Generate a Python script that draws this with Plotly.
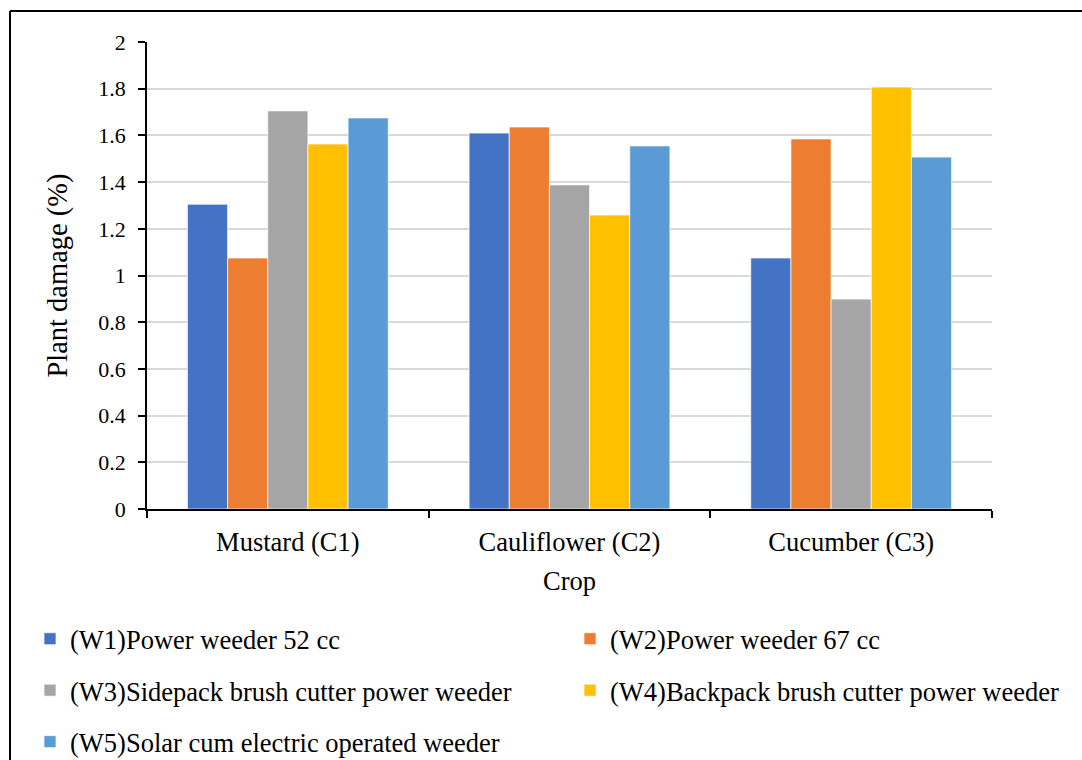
import plotly.graph_objects as go

crops = ["Mustard (C1)", "Cauliflower (C2)", "Cucumber (C3)"]
series_names = [
    "(W1)Power weeder 52 cc",
    "(W2)Power weeder 67 cc",
    "(W3)Sidepack brush cutter power weeder",
    "(W4)Backpack brush cutter power weeder",
    "(W5)Solar cum electric operated weeder",
]
w1 = [1.305, 1.61, 1.075]
w2 = [1.075, 1.636, 1.585]
w3 = [1.705, 1.388, 0.899]
w4 = [1.563, 1.259, 1.807]
w5 = [1.675, 1.555, 1.507]
values = [w1, w2, w3, w4, w5]
colors = ["#4472C4", "#ED7D31", "#A5A5A5", "#FFC000", "#5B9BD5"]
legend_ids = ["legend", "legend2", "legend", "legend2", "legend"]

W, H = 1082, 760
L, R, T, B = 147, 90, 42, 251
pw, ph = W - L - R, H - T - B


def px(x):
    return (x - L) / pw


def py(y):
    return (H - B - y) / ph


fig = go.Figure()
for i, (name, vals) in enumerate(zip(series_names, values)):
    fig.add_trace(go.Bar(
        x=crops, y=vals, name=name,
        marker=dict(color=colors[i], line=dict(color="white", width=0.7)),
        legend=legend_ids[i], legendgroup=f"g{i}",
    ))

font_family = "Liberation Serif, Times New Roman, serif"
legend_common = dict(
    font=dict(family=font_family, size=26.5, color="black"),
    orientation="v", xanchor="left", yanchor="top",
    bgcolor="rgba(0,0,0,0)", tracegroupgap=14, itemwidth=30,
)

fig.update_layout(
    width=W, height=H,
    margin=dict(l=L, r=R, t=T, b=B, autoexpand=False),
    paper_bgcolor="white", plot_bgcolor="white",
    barmode="group", bargap=0.287, bargroupgap=0,
    font=dict(family=font_family, color="black"),
    xaxis=dict(
        title=dict(text="Crop", font=dict(size=26.5), standoff=16),
        tickfont=dict(size=26.5),
        showline=True, linecolor="black", linewidth=1.5,
        ticks="outside", ticklen=7, tickcolor="black", tickwidth=1.5,
        tickson="boundaries", showgrid=False, ticklabelstandoff=8,
    ),
    yaxis=dict(
        title=dict(text="Plant damage (%)", font=dict(size=28.5), standoff=22),
        tickfont=dict(size=22),
        range=[0, 2], dtick=0.2, tickformat="~g",
        showline=True, linecolor="black", linewidth=1.5,
        ticks="outside", ticklen=7, tickcolor="black", tickwidth=1.5,
        gridcolor="#D9D9D9", gridwidth=1.5, zeroline=False,
        ticklabelstandoff=8,
    ),
    legend=dict(x=px(30), y=py(615), **legend_common),
    legend2=dict(x=px(570), y=py(615), **legend_common),
    shapes=[
        dict(type="line", xref="paper", yref="paper", x0=px(10), x1=px(10),
             y0=py(11), y1=py(770), line=dict(color="black", width=2)),
        dict(type="line", xref="paper", yref="paper", x0=px(10), x1=px(1090),
             y0=py(11), y1=py(11), line=dict(color="black", width=2)),
    ],
)

fig.write_html("out.html")
